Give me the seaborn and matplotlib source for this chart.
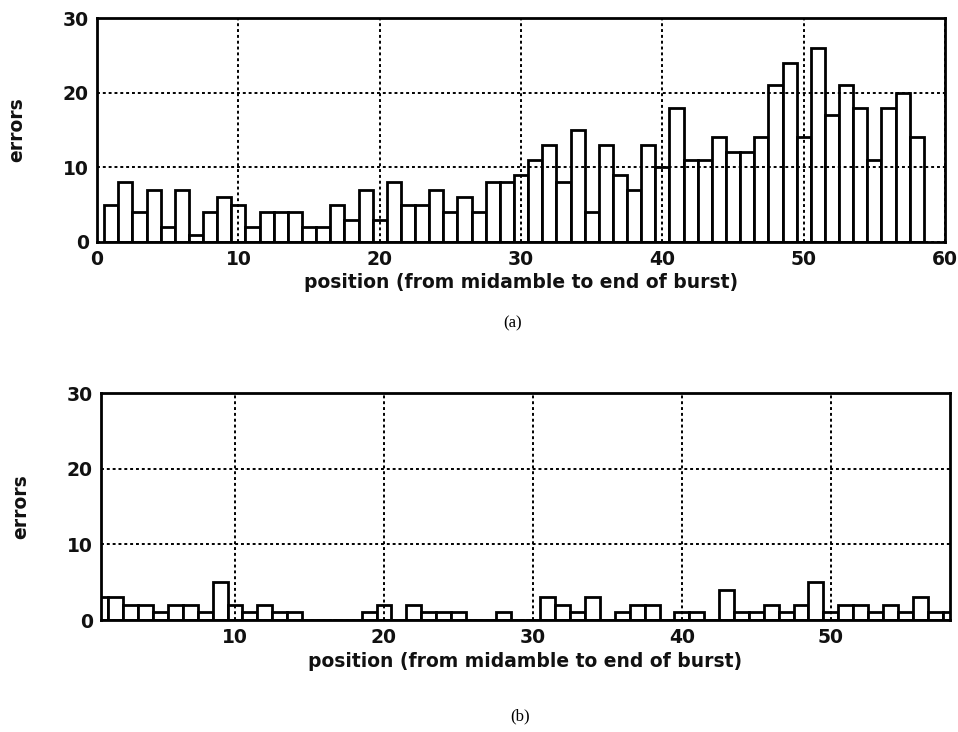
import numpy as np
import matplotlib
matplotlib.use("Agg")
import matplotlib.pyplot as plt
import seaborn as sns

# Error counts per symbol position, from midamble to end of burst
positions = list(range(1, 59))

errors_a = [5, 8, 4, 7, 2, 7, 1, 4, 6, 5,
            2, 4, 4, 4, 2, 2, 5, 3, 7, 3,
            8, 5, 5, 7, 4, 6, 4, 8, 8, 9,
            11, 13, 8, 15, 4, 13, 9, 7, 13, 10,
            18, 11, 11, 14, 12, 12, 14, 21, 24, 14,
            26, 17, 21, 18, 11, 18, 20, 14]

errors_b = [3, 3, 2, 2, 1, 2, 2, 1, 5, 2,
            1, 2, 1, 1, 0, 0, 0, 0, 1, 2,
            0, 2, 1, 1, 1, 0, 0, 1, 0, 0,
            3, 2, 1, 3, 0, 1, 2, 2, 0, 1,
            1, 0, 4, 1, 1, 2, 1, 2, 5, 1,
            2, 2, 1, 2, 1, 3, 1, 1]

xticks_a = [0, 10, 20, 30, 40, 50, 60]
xticks_b = [10, 20, 30, 40, 50]
yticks = [0, 10, 20, 30]

xlabel = "position (from midamble to end of burst)"
ylabel = "errors"

sns.set_theme(style="white")
plt.rcParams["font.family"] = ["DejaVu Sans"]

fig = plt.figure(figsize=(9.58, 7.32), dpi=100)
ax_a = fig.add_axes([0.1013, 0.6694, 0.8852, 0.3060])
ax_b = fig.add_axes([0.1054, 0.1530, 0.8862, 0.3100])


def draw_panel(ax, values, xlim, xticks):
    sns.histplot(x=positions, weights=values, discrete=True, ax=ax,
                 color="white", edgecolor="black", linewidth=2.0,
                 alpha=1.0, zorder=2)
    ax.set_xlim(*xlim)
    ax.set_ylim(0, 30)
    ax.set_xticks(xticks)
    ax.set_yticks(yticks)
    ax.grid(True, color="black", linestyle=(0, (1.5, 1.5)), linewidth=1.4)
    ax.set_axisbelow(False)
    for side in ax.spines.values():
        side.set_visible(True)
        side.set_color("black")
        side.set_linewidth(2.0)
        side.set_zorder(5)
    ax.tick_params(axis="both", which="both", length=0, labelsize=13.5,
                   colors="#111111", pad=6)
    for lbl in ax.get_xticklabels() + ax.get_yticklabels():
        lbl.set_fontweight("bold")
    ax.set_xlabel(xlabel, fontsize=13.5, fontweight="bold", color="#111111",
                  labelpad=3)
    ax.set_ylabel(ylabel, fontsize=13.5, fontweight="bold", color="#111111",
                  labelpad=26)


draw_panel(ax_a, errors_a, (0, 60), xticks_a)
draw_panel(ax_b, errors_b, (1, 58), xticks_b)

fig.text(0.535, 0.558, "(a)", ha="center", va="center",
         fontsize=12, family="Liberation Serif", color="black")
fig.text(0.543, 0.022, "(b)", ha="center", va="center",
         fontsize=12, family="Liberation Serif", color="black")

fig.savefig("out.png", dpi=100, facecolor="white")
